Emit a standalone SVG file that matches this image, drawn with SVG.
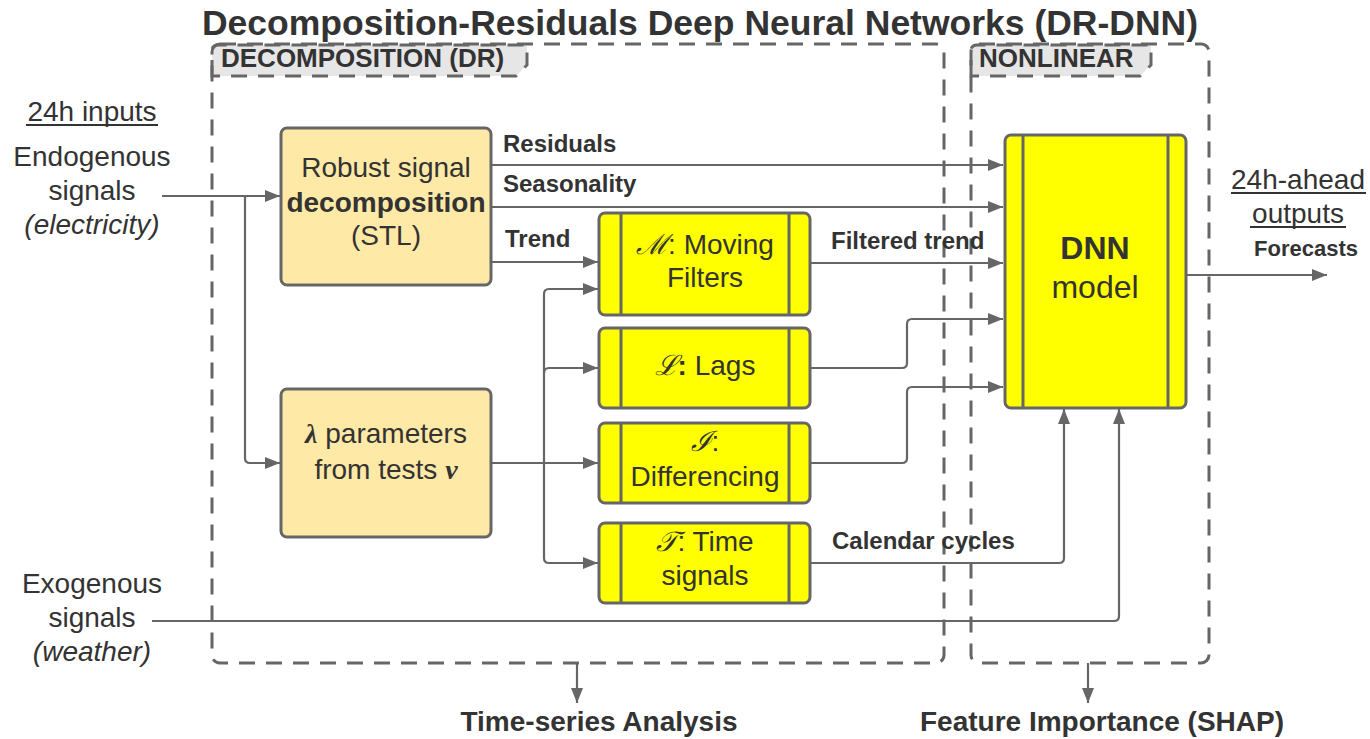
<svg xmlns="http://www.w3.org/2000/svg" width="1370" height="739" viewBox="0 0 1370 739">
<style>
  text { font-family: "Liberation Sans", Arial, sans-serif; fill: #333333; }
  .t28 { font-size: 28px; }
  .lbl { font-size: 24px; font-weight: bold; }
  .b { font-weight: bold; }
  .c { text-anchor: middle; }
  .it { font-style: italic; }
  .cont { fill: none; stroke: #666666; stroke-width: 3; stroke-dasharray: 16 11; }
  .tab { fill: #e6e6e6; stroke: #666666; stroke-width: 3; stroke-dasharray: 16 11; }
  .orange { fill: #ffe9a6; stroke: #666666; stroke-width: 3; }
  .yellow { fill: #ffff00; stroke: #666666; stroke-width: 3; }
  .inner { stroke: #666666; stroke-width: 3; fill: none; }
  .conn { fill: none; stroke: #666666; stroke-width: 2.2; }
  .arr { marker-end: url(#ah); }
  .scr { font-family: "DejaVu Serif", "Liberation Serif", serif; font-style: italic; }
  .ul { stroke: #333333; stroke-width: 2; }
</style>
<defs>
  <marker id="ah" markerUnits="userSpaceOnUse" markerWidth="16" markerHeight="12" refX="15" refY="6" orient="auto">
    <path d="M0,0 L15,6 L0,12 z" fill="#666666"/>
  </marker>
</defs>

<!-- Title -->
<text x="700" y="35" class="c b" font-size="35.5">Decomposition-Residuals Deep Neural Networks (DR-DNN)</text>

<!-- Containers -->
<g id="container-dr">
  <path class="tab" d="M212,76 V51 Q212,45 218,45 H527 V65 L516,76 Z"/>
  <rect class="cont" x="212" y="44" width="732" height="619" rx="8"/>
  <text x="221" y="67" class="b" font-size="26">DECOMPOSITION (DR)</text>
</g>
<g id="container-nonlinear">
  <path class="tab" d="M971,76 V51 Q971,45 977,45 H1151 V65 L1140,76 Z"/>
  <rect class="cont" x="971" y="44" width="238" height="619" rx="8"/>
  <text x="979" y="67" class="b" font-size="26">NONLINEAR</text>
</g>

<!-- Connectors -->
<g id="connectors">
  <path class="conn arr" d="M162,196 H280"/>
  <path class="conn arr" d="M245,196 V458 Q245,463 250,463 H280"/>
  <path class="conn arr" d="M491,165 H1003"/>
  <path class="conn arr" d="M491,207 H1003"/>
  <path class="conn arr" d="M491,262 H598"/>
  <path class="conn arr" d="M491,463 H598"/>
  <path class="conn arr" d="M544,463 V294 Q544,289 549,289 H598"/>
  <path class="conn arr" d="M544,463 V558 Q544,563 549,563 H598"/>
  <path class="conn arr" d="M544,373 Q544,368 549,368 H598"/>
  <path class="conn arr" d="M810,263 H1003"/>
  <path class="conn arr" d="M810,368 H902 Q907,368 907,363 V324 Q907,319 912,319 H1003"/>
  <path class="conn arr" d="M810,463 H902 Q907,463 907,458 V392 Q907,387 912,387 H1003"/>
  <path class="conn arr" d="M810,563 H1059 Q1064,563 1064,558 V409"/>
  <path class="conn arr" d="M152,621 H1114 Q1119,621 1119,616 V409"/>
  <path class="conn arr" d="M1186,275 H1327"/>
  <path class="conn arr" d="M577,663 V703"/>
  <path class="conn arr" d="M1088,663 V703"/>
</g>

<!-- Connector labels -->
<text x="503" y="152" class="lbl">Residuals</text>
<text x="503" y="192" class="lbl">Seasonality</text>
<text x="505" y="247" class="lbl">Trend</text>
<text x="831" y="249" class="lbl">Filtered trend</text>
<text x="832" y="549" class="lbl">Calendar cycles</text>
<text x="1306" y="256" class="c b" font-size="22">Forecasts</text>

<!-- Inputs / outputs -->
<g id="inputs-endogenous">
  <text x="92" y="121" class="t28 c">24h inputs</text>
  <line class="ul" x1="26" y1="125" x2="158" y2="125"/>
  <text x="92" y="166" class="t28 c">Endogenous</text>
  <text x="92" y="200" class="t28 c">signals</text>
  <text x="92" y="234" class="t28 c it">(electricity)</text>
</g>
<g id="inputs-exogenous">
  <text x="92" y="593" class="t28 c">Exogenous</text>
  <text x="92" y="627" class="t28 c">signals</text>
  <text x="92" y="661" class="t28 c it">(weather)</text>
</g>
<g id="outputs">
  <text x="1298" y="189" class="t28 c">24h-ahead</text>
  <line class="ul" x1="1231" y1="193" x2="1366" y2="193"/>
  <text x="1298" y="223" class="t28 c">outputs</text>
  <line class="ul" x1="1250" y1="227" x2="1346" y2="227"/>
</g>

<!-- Nodes -->
<g id="node-stl">
  <rect class="orange" x="281" y="128" width="210" height="157" rx="6"/>
  <text x="386" y="177" class="t28 c">Robust signal</text>
  <text x="386" y="212" class="t28 c b">decomposition</text>
  <text x="386" y="245" class="t28 c">(STL)</text>
</g>
<g id="node-lambda">
  <rect class="orange" x="281" y="389" width="210" height="148" rx="6"/>
  <text x="386" y="443" class="t28 c"><tspan font-family="Liberation Serif, serif" font-weight="bold" font-style="italic">λ</tspan> parameters</text>
  <text x="386" y="479" class="t28 c">from tests <tspan font-family="Liberation Serif, serif" font-weight="bold" font-style="italic">v</tspan></text>
</g>
<g id="node-moving">
  <rect class="yellow" x="599" y="213" width="211" height="102" rx="6"/>
  <line class="inner" x1="621" y1="213" x2="621" y2="315"/>
  <line class="inner" x1="789" y1="213" x2="789" y2="315"/>
  <text x="705" y="254" class="t28 c"><tspan class="scr">ℳ</tspan>: Moving</text>
  <text x="705" y="287" class="t28 c">Filters</text>
</g>
<g id="node-lags">
  <rect class="yellow" x="599" y="328" width="211" height="80" rx="6"/>
  <line class="inner" x1="621" y1="328" x2="621" y2="408"/>
  <line class="inner" x1="789" y1="328" x2="789" y2="408"/>
  <text x="705" y="375" class="t28 c"><tspan class="scr">ℒ</tspan><tspan font-weight="bold">:</tspan> Lags</text>
</g>
<g id="node-diff">
  <rect class="yellow" x="599" y="423" width="211" height="80" rx="6"/>
  <line class="inner" x1="621" y1="423" x2="621" y2="503"/>
  <line class="inner" x1="789" y1="423" x2="789" y2="503"/>
  <text x="705" y="451" class="t28 c"><tspan class="scr">ℐ</tspan>:</text>
  <text x="705" y="486" class="t28 c">Differencing</text>
</g>
<g id="node-time">
  <rect class="yellow" x="599" y="523" width="211" height="80" rx="6"/>
  <line class="inner" x1="621" y1="523" x2="621" y2="603"/>
  <line class="inner" x1="789" y1="523" x2="789" y2="603"/>
  <text x="705" y="551" class="t28 c"><tspan class="scr">𝒯</tspan>: Time</text>
  <text x="705" y="585" class="t28 c">signals</text>
</g>
<g id="node-dnn">
  <rect class="yellow" x="1005" y="135" width="181" height="273" rx="6"/>
  <line class="inner" x1="1023" y1="135" x2="1023" y2="408"/>
  <line class="inner" x1="1168" y1="135" x2="1168" y2="408"/>
  <text x="1095" y="259" class="c b" font-size="32">DNN</text>
  <text x="1095" y="298" class="c" font-size="32">model</text>
</g>

<!-- Bottom labels -->
<text x="599" y="731" class="t28 c b">Time-series Analysis</text>
<text x="1102" y="731" class="t28 c b">Feature Importance (SHAP)</text>
</svg>
